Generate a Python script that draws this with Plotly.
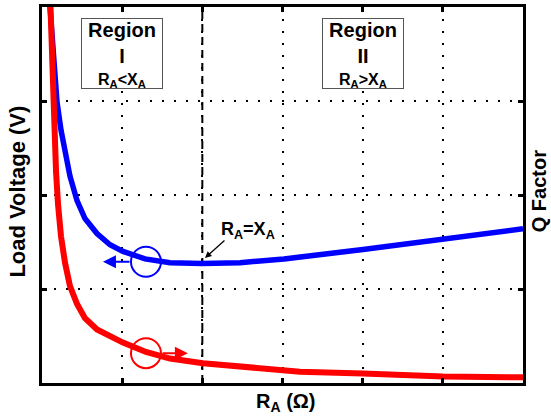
import plotly.graph_objects as go

# ---- data (arbitrary grid units) ----
r_a_voltage = [0.087, 0.137, 0.187, 0.237, 0.287, 0.349, 0.437, 0.536, 0.686, 0.848,
               1.010, 1.285, 1.597, 1.996, 2.470, 3.019, 4.004, 5.002, 6.0]
load_voltage = [4.15, 3.46, 2.99, 2.69, 2.46, 2.20, 1.94, 1.75, 1.59, 1.47,
                1.40, 1.32, 1.28, 1.27, 1.28, 1.32, 1.42, 1.53, 1.64]

r_a_q = [0.100, 0.125, 0.150, 0.175, 0.200, 0.237, 0.287, 0.349, 0.437, 0.536,
         0.686, 0.848, 1.010, 1.297, 1.597, 2.008, 2.844, 3.218, 4.004, 5.002, 6.0]
q_factor = [4.15, 3.41, 2.72, 2.25, 1.90, 1.56, 1.28, 1.03, 0.84, 0.69,
            0.57, 0.50, 0.43, 0.33, 0.26, 0.21, 0.14, 0.12, 0.10, 0.07, 0.06]

x_ticks = [1, 2, 3, 4, 5]
y_ticks = [1, 2, 3]
x_range = [0, 6]
y_range = [0, 4]
boundary_x = 2          # R_A = X_A
region_titles = ["Region<br>I", "Region<br>II"]
region_conditions = ["R<sub>A</sub>&lt;X<sub>A</sub>", "R<sub>A</sub>&gt;X<sub>A</sub>"]
region_x = [1, 4]
region_box_y = 3.51
region_cond_y = 3.22
marker_x = 1.297
voltage_marker_y = 1.29
q_marker_y = 0.317

FONT = "Liberation Sans, Arial, sans-serif"

fig = go.Figure()
fig.add_trace(go.Scatter(x=r_a_voltage, y=load_voltage, mode="lines",
                         line=dict(color="#0000FF", width=5.5),
                         yaxis="y", name="Load Voltage", showlegend=False))
fig.add_trace(go.Scatter(x=r_a_q, y=q_factor, mode="lines",
                         line=dict(color="#FF0000", width=6),
                         yaxis="y2", name="Q Factor", showlegend=False))

axis_common = dict(showline=True, linewidth=3, linecolor="black", mirror="ticks",
                   ticks="inside", ticklen=5, tickwidth=3, tickcolor="black",
                   showticklabels=False, zeroline=False,
                   showgrid=True, gridcolor="black", gridwidth=2, griddash="2px,10px")

fig.update_layout(
    width=551, height=419,
    margin=dict(l=42, r=28, t=4, b=36),
    paper_bgcolor="white", plot_bgcolor="white",
    font=dict(family=FONT, color="black"),
    xaxis=dict(range=x_range, tickvals=x_ticks, **axis_common),
    yaxis=dict(range=y_range, tickvals=y_ticks, **axis_common),
    yaxis2=dict(range=y_range, overlaying="y", side="right", showgrid=False,
                showticklabels=False, showline=False, zeroline=False, ticks=""),
)

# boundary dashed line
fig.add_shape(type="line", xref="x", yref="paper", x0=boundary_x, x1=boundary_x, y0=0, y1=1,
              line=dict(color="black", width=2, dash="8px,5px"), layer="between")

# circles marking the curves
for cy, col in [(voltage_marker_y, "#0000FF"), (q_marker_y, "#FF0000")]:
    fig.add_shape(type="circle", xref="x", yref="y",
                  xsizemode="pixel", ysizemode="pixel", xanchor=marker_x, yanchor=cy,
                  x0=-15, x1=15, y0=-15, y1=15,
                  line=dict(color=col, width=2), fillcolor="rgba(0,0,0,0)", layer="above")

annotations = []
# axis arrows
annotations.append(dict(x=0.76, y=voltage_marker_y, ax=1.11, ay=voltage_marker_y,
                        xref="x", yref="y", axref="x", ayref="y", text="",
                        showarrow=True, arrowhead=2, arrowsize=1.3, arrowwidth=2,
                        arrowcolor="#0000FF", standoff=0, startstandoff=0))
annotations.append(dict(x=1.82, y=q_marker_y, ax=1.485, ay=q_marker_y,
                        xref="x", yref="y", axref="x", ayref="y", text="",
                        showarrow=True, arrowhead=2, arrowsize=1.3, arrowwidth=2,
                        arrowcolor="#FF0000", standoff=0, startstandoff=0))
# R_A = X_A label
annotations.append(dict(x=2.57, y=1.625, xref="x", yref="y", showarrow=False,
                        text="<b>R<sub>A</sub>=X<sub>A</sub></b>",
                        font=dict(size=18, family=FONT, color="black")))
annotations.append(dict(x=2.033, y=1.33, ax=2.295, ay=1.53, xref="x", yref="y",
                        axref="x", ayref="y", text="", showarrow=True, arrowhead=2,
                        arrowsize=1, arrowwidth=1.3, arrowcolor="black", standoff=0))
# region boxes
for rx, ttl, cond in zip(region_x, region_titles, region_conditions):
    annotations.append(dict(x=rx, y=region_box_y, xref="x", yref="y", showarrow=False,
                            text="<b>" + ttl + "</b>", align="center",
                            font=dict(size=20, family=FONT, color="black"),
                            bordercolor="#555555", borderwidth=1, borderpad=0,
                            bgcolor="white", width=80, height=69, valign="top"))
    annotations.append(dict(x=rx, y=region_cond_y, xref="x", yref="y", showarrow=False,
                            text="<b>" + cond + "</b>", align="center",
                            font=dict(size=16, family=FONT, color="black")))
# axis titles
annotations.append(dict(x=0.5, y=0, xref="paper", yref="paper", yshift=-19,
                        xshift=3, showarrow=False, text="<b>R<sub>A</sub> (Ω)</b>",
                        font=dict(size=20, family=FONT, color="black"),
                        xanchor="center", yanchor="middle"))
annotations.append(dict(x=0, y=0.509, xref="paper", yref="paper", xshift=-24,
                        showarrow=False, text="<b>Load Voltage (V)</b>", textangle=-90,
                        font=dict(size=22, family=FONT, color="black"),
                        xanchor="center", yanchor="middle"))
annotations.append(dict(x=1, y=0.51, xref="paper", yref="paper", xshift=16,
                        showarrow=False, text="<b>Q Factor</b>", textangle=-90,
                        font=dict(size=20, family=FONT, color="black"),
                        xanchor="center", yanchor="middle"))
fig.update_layout(annotations=annotations)

fig.write_html("out.html", config={"displayModeBar": False},
               post_script="document.body.style.margin='0';document.body.style.overflow='hidden';")
